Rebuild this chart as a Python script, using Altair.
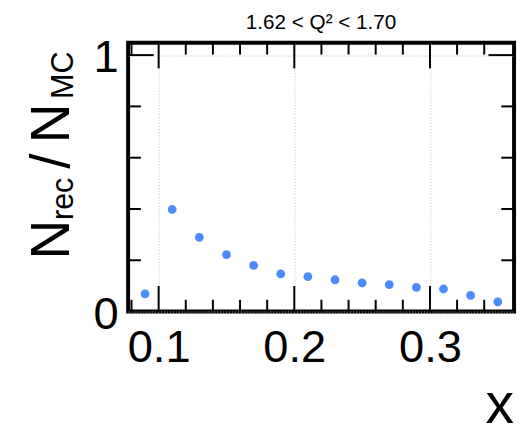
import altair as alt
import pandas as pd

# data
x_vals = [0.09, 0.11, 0.13, 0.15, 0.17, 0.19, 0.21, 0.23, 0.25, 0.27, 0.29, 0.31, 0.33, 0.35]
y_vals = [0.069, 0.398, 0.289, 0.222, 0.180, 0.147, 0.136, 0.124, 0.112, 0.105, 0.094, 0.088, 0.063, 0.038]
x_major = [0.1, 0.2, 0.3]
x_minor = [0.08, 0.12, 0.14, 0.16, 0.18, 0.22, 0.24, 0.26, 0.28, 0.32, 0.34]
y_major = [1.0]
y_minor = [0.2, 0.4, 0.6, 0.8]
y_labels = [0, 1]
title_text = "1.62 < Q\u00b2 < 1.70"

W, H = 392, 273
FONT = "Liberation Sans"
xs = alt.Scale(domain=[0.0775, 0.362], nice=False, zero=False)
ys = alt.Scale(domain=[0, 1.048], nice=False, zero=False)

x_axis = alt.Axis(
    values=x_major, format=".1f", ticks=False, tickSize=0, domain=False,
    grid=True, gridDash=[1, 2], gridColor="#bbbbbb", gridWidth=1,
    labelFont=FONT, labelFontSize=46, labelColor="black", labelPadding=15,
    labelFlush=False, title=None)
y_axis = alt.Axis(
    values=y_labels, format="~g", ticks=False, tickSize=0, domain=False,
    grid=True, gridDash=[1, 2], gridColor="#bbbbbb", gridWidth=1,
    labelFont=FONT, labelFontSize=46, labelColor="black", labelPadding=10,
    labelOffset=3, labelFlush=False, title=None)

pts = pd.DataFrame({"x": x_vals, "y": y_vals})

points = alt.Chart(pts).mark_circle(size=80, color="#4a8bff", opacity=1).encode(
    x=alt.X("x:Q", scale=xs, axis=x_axis),
    y=alt.Y("y:Q", scale=ys, axis=y_axis),
)

def xticks(vals, length):
    d = pd.DataFrame({"x": vals})
    bot = alt.Chart(d).mark_rule(color="black", strokeWidth=2).encode(
        x=alt.X("x:Q", scale=xs, axis=x_axis), y=alt.value(H), y2=alt.value(H - length))
    top = alt.Chart(d).mark_rule(color="black", strokeWidth=2).encode(
        x=alt.X("x:Q", scale=xs, axis=x_axis), y=alt.value(0), y2=alt.value(length))
    return [bot, top]

def yticks(vals, length):
    d = pd.DataFrame({"y": vals})
    left = alt.Chart(d).mark_rule(color="black", strokeWidth=2).encode(
        y=alt.Y("y:Q", scale=ys, axis=y_axis), x=alt.value(0), x2=alt.value(length))
    right = alt.Chart(d).mark_rule(color="black", strokeWidth=2).encode(
        y=alt.Y("y:Q", scale=ys, axis=y_axis), x=alt.value(W), x2=alt.value(W - length))
    return [left, right]

one = alt.Data(values=[{}])

def txt(t, size, x, y, align="left", angle=0):
    kw = dict(font=FONT, fontSize=size, align=align, baseline="alphabetic", color="black")
    if angle:
        kw["angle"] = angle
    return alt.Chart(one).mark_text(**kw).encode(
        x=alt.value(x), y=alt.value(y), text=alt.value(t))

texts = [
    txt(title_text, 21, W / 2, -14, align="center"),
    txt("x", 58, W, 386, align="right"),
    txt("N", 56, -60, 220, angle=270),
    txt("rec", 31, -56, 180, angle=270),
    txt("/", 56, -60, 128, angle=270),
    txt("N", 56, -60, 102, angle=270),
    txt("MC", 31, -56, 57, angle=270),
]

chart = alt.layer(
    points,
    *xticks(x_major, 26), *xticks(x_minor, 12),
    *yticks(y_major, 26), *yticks(y_minor, 13),
    *texts,
).properties(
    width=W, height=H,
    autosize=alt.AutoSizeParams(type="none"),
    padding={"left": 122, "top": 32, "right": 4, "bottom": 121},
).configure_view(stroke="black", strokeWidth=4)

chart.save("out.html", embed_options={"renderer": "svg", "actions": False})
